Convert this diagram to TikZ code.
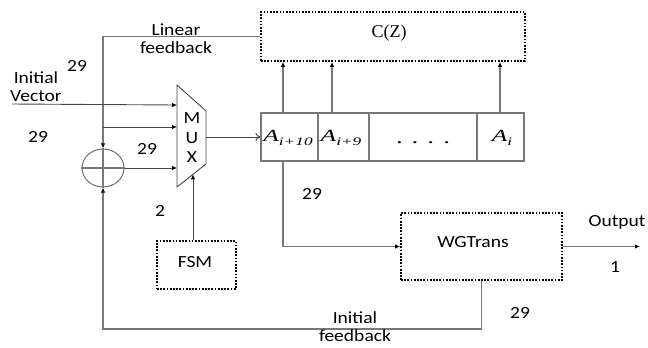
\documentclass[tikz,border=0pt]{standalone}
\usepackage{fontspec}
\usepackage{graphicx}
\setmainfont{Liberation Serif}
\newfontfamily\labf[FakeStretch=1.15]{Carlito}
\usetikzlibrary{arrows.meta,shapes.geometric,calc}
\definecolor{linegray}{RGB}{120,120,120}
\definecolor{muxgray}{RGB}{70,70,70}
\newcommand\Alab[1]{\scalebox{1.5}[1]{\fontsize{17bp}{17bp}\selectfont\itshape A\raisebox{-4.5bp}{\fontsize{11.5bp}{11.5bp}\selectfont #1}}}
\begin{document}
\begin{tikzpicture}[x=1bp,y=-1bp,
  lbl/.style={font=\labf\fontsize{17bp}{19bp}\selectfont, inner sep=0pt, align=center},
  serlbl/.style={font=\fontsize{18bp}{20bp}\selectfont, inner sep=0pt},
  dotbox/.style={draw=black, line width=1.7bp, dash pattern=on 1.7bp off 1.5bp, rectangle, inner sep=0pt},
  cell/.style={draw=linegray, line width=1.2bp, rectangle, minimum height=48bp, inner sep=0pt},
  ln/.style={draw=linegray, line width=1.1bp},
  arr/.style={ln, -{Latex[length=5bp,width=4.5bp,color=black]}},
  muxln/.style={draw=muxgray, line width=0.9bp},
  muxarr/.style={muxln, -{Latex[length=5bp,width=4.5bp,color=black]}}
]
\useasboundingbox (0,0) rectangle (648,347);
% boxes
\node[dotbox, minimum width=264bp, minimum height=49bp] (cz) at (393,36.5) {};
\node[serlbl] (czl) at (389,33) {C(Z)};
\node[cell, minimum width=57bp] (c1) at (289.5,137) {};
\node[cell, minimum width=51bp] (c2) at (343.5,137) {};
\node[cell, minimum width=108bp] (c3) at (423,137) {};
\node[cell, minimum width=47bp] (c4) at (500.5,137) {};
\node[anchor=base, inner sep=0pt] (a10) at (288,141) {\Alab{i+10}};
\node[anchor=base, inner sep=0pt] (a9) at (341,141) {\Alab{i+9}};
\node[anchor=base, inner sep=0pt] (dots) at (423,143) {\scalebox{1.5}[1]{\fontsize{18bp}{18bp}\selectfont . . . .}};
\node[anchor=base, inner sep=0pt] (ai) at (502,141) {\Alab{i}};
\node[dotbox, minimum width=79bp, minimum height=48bp] (fsm) at (196.5,265) {};
\node[lbl] (fsml) at (195,262) {FSM};
\node[dotbox, minimum width=161bp, minimum height=67bp] (wg) at (481.5,246.5) {};
\node[lbl] (wgl) at (473,242) {WGTrans};
% MUX
\coordinate (mtl) at (177,85);
\coordinate (mtr) at (206,111);
\coordinate (mbr) at (206,164);
\coordinate (mbl) at (177,187);
\draw[muxln] (mtl) -- (mtr) -- (mbr) -- (mbl) -- cycle;
\node[lbl] (mM) at (192,118) {M};
\node[lbl] (mU) at (192,138) {U};
\node[lbl] (mX) at (192,157) {X};
\coordinate (m1) at (177,105);
\coordinate (m2) at (177,127);
\coordinate (m3) at (177,168);
\coordinate (mb) at (193,174.3);
\coordinate (mo) at (206,137);
% XOR
\node[ellipse, draw=linegray, line width=1.1bp, minimum width=42bp, minimum height=38bp, inner sep=0pt] (xor) at (103,168) {};
\draw[ln] (xor.north) -- (xor.south) (xor.west) -- (xor.east);
% connectors
\draw[arr] (cz.west) -| (xor.north);
\coordinate (br) at (103,127);
\draw[muxarr] (br) -- (m2);
\coordinate (iv) at (12,104);
\draw[muxarr] (iv) -- (m1);
\draw[muxarr] (xor.east) -- (m3);
\draw[muxarr] (mb |- fsm.north) -- (mb);
\draw[muxln, -{To[length=5bp,width=8bp]}] (mo) -- (c1.west);
\coordinate (t1) at (283,113);
\coordinate (t2) at (332,113);
\coordinate (t3) at (500,113);
\draw[arr] (t1) -- (t1 |- cz.south);
\draw[arr] (t2) -- (t2 |- cz.south);
\draw[arr] (t3) -- (t3 |- cz.south);
\coordinate (b1) at (283,161);
\draw[arr] (b1) |- (wg.west);
\coordinate (out) at (640,246.5);
\draw[arr] (wg.east) -- (out);
\coordinate (fbl) at (103,329);
\draw[arr] (wg.south) |- (fbl) -- (xor.south);
% labels
\node[lbl] (linfb) at (176,39) {Linear\\[-1bp]feedback};
\node[lbl] (ivl) at (36,87) {Initial\\[-1bp]Vector};
\node[lbl] (n1) at (77,66) {29};
\node[lbl] (n2) at (38,137) {29};
\node[lbl] (n3) at (147,149) {29};
\node[lbl] (n4) at (312,194) {29};
\node[lbl] (n5) at (520,313) {29};
\node[lbl] (n6) at (160,211) {2};
\node[lbl] (outl) at (617,222) {Output};
\node[lbl] (onel) at (615,267) {1};
\node[lbl] (inifb) at (355,327) {Initial\\[-1bp]feedback};
\end{tikzpicture}
\end{document}
